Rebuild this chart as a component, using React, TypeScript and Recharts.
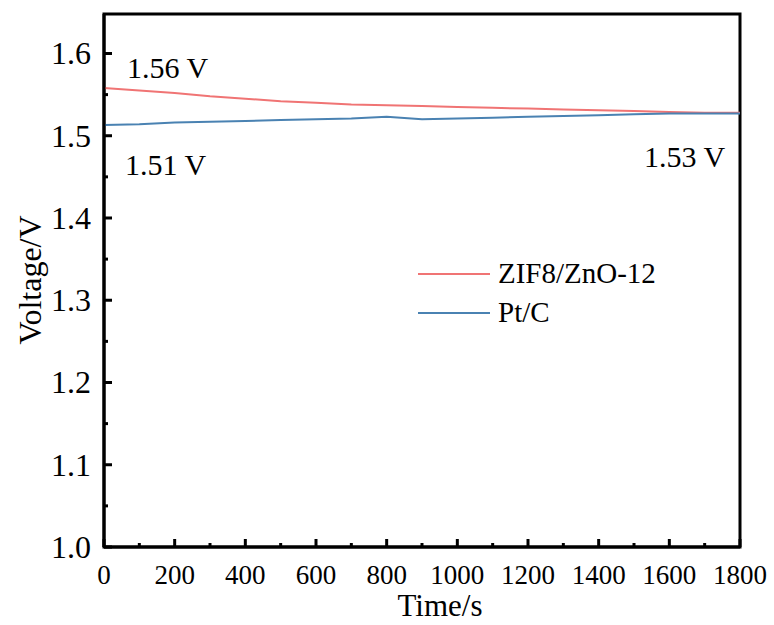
import { LineChart, Line, XAxis, YAxis, ReferenceArea, ReferenceLine } from 'recharts';

const times = [0, 100, 200, 300, 400, 500, 600, 700, 800, 900, 1000, 1100, 1200, 1300, 1400, 1500, 1600, 1700, 1800];
const zifValues = [1.558, 1.555, 1.552, 1.548, 1.545, 1.542, 1.540, 1.538, 1.537, 1.536, 1.535, 1.534, 1.533, 1.532, 1.531, 1.530, 1.529, 1.528, 1.528];
const ptcValues = [1.513, 1.514, 1.516, 1.517, 1.518, 1.519, 1.520, 1.521, 1.523, 1.520, 1.521, 1.522, 1.523, 1.524, 1.525, 1.526, 1.527, 1.527, 1.527];

const xMajorTicks = [0, 200, 400, 600, 800, 1000, 1200, 1400, 1600, 1800];
const xMinorTicks = [100, 300, 500, 700, 900, 1100, 1300, 1500, 1700];
const yMajorTicks = [1.0, 1.1, 1.2, 1.3, 1.4, 1.5, 1.6];
const yMinorTicks = [1.05, 1.15, 1.25, 1.35, 1.45, 1.55];

const seriesNames = ['ZIF8/ZnO-12', 'Pt/C'];
const seriesColors = ['#F07474', '#4A82B2'];

const data = times.map((t, i) => ({ time: t, zif: zifValues[i], ptc: ptcValues[i] }));

const W = 774;
const H = 625;
const M = { top: 14, right: 34, left: 0, bottom: 0 };
const Y_AXIS_W = 104;
const X_AXIS_H = 78;
const X_DOMAIN: [number, number] = [0, 1800];
const Y_DOMAIN: [number, number] = [1.0, 1.648];
const plotW = W - M.left - M.right - Y_AXIS_W;
const plotH = H - M.top - M.bottom - X_AXIS_H;
// tick lengths converted to data units so the inward ticks go through the chart scales
const xPerPx = (X_DOMAIN[1] - X_DOMAIN[0]) / plotW;
const yPerPx = (Y_DOMAIN[1] - Y_DOMAIN[0]) / plotH;

const FONT = '"Liberation Serif", "Times New Roman", serif';
const axisLine = { stroke: '#000', strokeWidth: 3 };

const XTickLabel = ({ x, y, payload }: any) => (
  <text x={x} y={Number(y) + 37} textAnchor="middle" fill="#000" fontSize={27} fontFamily={FONT}>
    {payload.value}
  </text>
);

const YTickLabel = ({ x, y, payload }: any) => (
  <text x={Number(x) - 13} y={Number(y) + 11} textAnchor="end" fill="#000" fontSize={32} fontFamily={FONT}>
    {Number(payload.value).toFixed(1)}
  </text>
);

const noteStyle = { position: 'absolute' as const, fontFamily: FONT, fontSize: 30, color: '#000', lineHeight: 1, whiteSpace: 'nowrap' as const };

export default function App() {
  const xTick = (v: number, len: number) => (
    <ReferenceLine
      key={`xt${v}`}
      segment={[{ x: v, y: Y_DOMAIN[0] }, { x: v, y: Y_DOMAIN[0] + len * yPerPx }]}
      stroke="#000"
      strokeWidth={3}
      ifOverflow="visible"
    />
  );
  const yTick = (v: number, len: number) => (
    <ReferenceLine
      key={`yt${v}`}
      segment={[{ x: X_DOMAIN[0], y: v }, { x: X_DOMAIN[0] + len * xPerPx, y: v }]}
      stroke="#000"
      strokeWidth={3}
      ifOverflow="visible"
    />
  );

  return (
    <div style={{ position: 'absolute', left: 0, top: 0, width: W, height: H, background: '#fff' }}>
      <LineChart width={W} height={H} data={data} margin={M}>
        <XAxis
          dataKey="time"
          type="number"
          domain={X_DOMAIN}
          ticks={xMajorTicks}
          interval={0}
          tickSize={0}
          tickMargin={0}
          tickLine={false}
          tick={XTickLabel}
          axisLine={axisLine}
          height={X_AXIS_H}
        />
        <YAxis
          type="number"
          domain={Y_DOMAIN}
          ticks={yMajorTicks}
          interval={0}
          allowDataOverflow
          tickSize={0}
          tickMargin={0}
          tickLine={false}
          tick={YTickLabel}
          axisLine={axisLine}
          width={Y_AXIS_W}
        />
        <ReferenceArea
          x1={X_DOMAIN[0]}
          x2={X_DOMAIN[1]}
          y1={Y_DOMAIN[0]}
          y2={Y_DOMAIN[1]}
          fill="none"
          fillOpacity={0}
          stroke="#000"
          strokeWidth={3}
          ifOverflow="visible"
        />
        {xMajorTicks.map((v) => xTick(v, 8))}
        {xMinorTicks.map((v) => xTick(v, 4))}
        {yMajorTicks.map((v) => yTick(v, 8))}
        {yMinorTicks.map((v) => yTick(v, 4))}
        <Line type="linear" dataKey="zif" name={seriesNames[0]} stroke={seriesColors[0]} strokeWidth={2} dot={false} isAnimationActive={false} />
        <Line type="linear" dataKey="ptc" name={seriesNames[1]} stroke={seriesColors[1]} strokeWidth={2} dot={false} isAnimationActive={false} />
      </LineChart>

      <div style={{ position: 'absolute', left: 418, top: 254, fontFamily: FONT, fontSize: 29, color: '#000' }}>
        {seriesNames.map((name, i) => (
          <div key={name} style={{ display: 'flex', alignItems: 'center', height: 39 }}>
            <svg width={72} height={4} style={{ marginRight: 8 }}>
              <line x1={0} y1={2} x2={72} y2={2} stroke={seriesColors[i]} strokeWidth={2} />
            </svg>
            <span>{name}</span>
          </div>
        ))}
      </div>

      <div style={{ ...noteStyle, left: 127, top: 53 }}>1.56 V</div>
      <div style={{ ...noteStyle, left: 125, top: 150 }}>1.51 V</div>
      <div style={{ ...noteStyle, left: 644, top: 142 }}>1.53 V</div>

      <div style={{ ...noteStyle, fontSize: 31, left: 440, top: 605, transform: 'translate(-50%, -50%)' }}>Time/s</div>
      <div style={{ ...noteStyle, fontSize: 32, left: 30, top: 280, transform: 'translate(-50%, -50%) rotate(-90deg)' }}>Voltage/V</div>
    </div>
  );
}
